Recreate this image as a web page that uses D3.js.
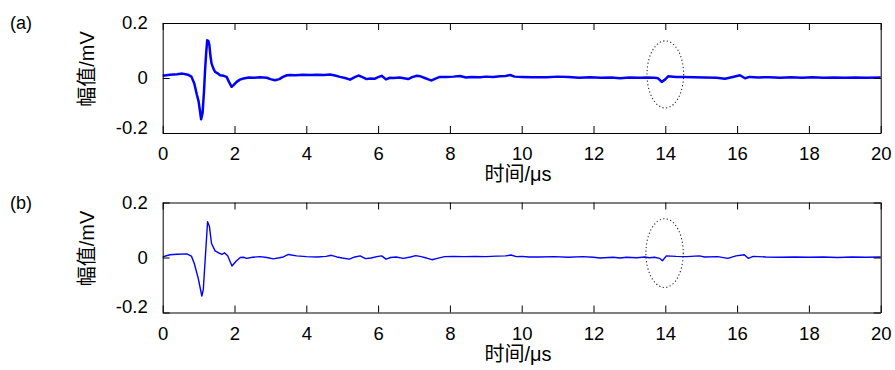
<!DOCTYPE html>
<html>
<head>
<meta charset="utf-8">
<script src="https://d3js.org/d3.v7.min.js"></script>
<style>
  body { margin: 0; background: #fff; }
  svg { display: block; }
  text { font-family: "Liberation Sans", Arial, "Noto Sans CJK SC", sans-serif; fill: #000; }
</style>
</head>
<body>
<svg id="chart" width="895" height="370"></svg>
<script>
// time axis (us) and amplitude (mV)
var timeA = [0, 0.2, 0.4, 0.55, 0.7, 0.8, 0.88, 0.95, 1.0, 1.07, 1.11, 1.15, 1.18, 1.21, 1.24, 1.27, 1.3, 1.33, 1.36, 1.41,
  1.46, 1.52, 1.6, 1.7, 1.78, 1.85, 1.92, 1.98, 2.06, 2.15, 2.25, 2.4, 2.55, 2.71, 2.9, 3.0, 3.13, 3.25, 3.35, 3.46,
  3.55, 3.7, 3.9, 4.1, 4.3, 4.5, 4.66, 4.8, 4.94, 5.08, 5.22, 5.35, 5.45, 5.55, 5.68, 5.8, 5.9, 6.0, 6.1, 6.22,
  6.33, 6.43, 6.6, 6.84, 6.95, 7.08, 7.18, 7.3, 7.42, 7.49, 7.6, 7.72, 7.9, 8.1, 8.28, 8.45, 8.6, 8.84, 9.0, 9.2,
  9.4, 9.55, 9.68, 9.8, 10.0, 10.3, 10.7, 11.0, 11.3, 11.6, 11.9, 12.2, 12.5, 12.74, 13.0, 13.3, 13.48, 13.7, 13.8, 13.9,
  13.99, 14.08, 14.3, 14.5, 14.8, 15.1, 15.43, 15.66, 15.85, 16.08, 16.22, 16.35, 16.6, 16.9, 17.2, 17.5, 17.8, 18.1, 18.4, 18.7,
  19.0, 19.3, 19.6, 20.0]
var ampA = [0.008, 0.012, 0.014, 0.016, 0.012, 0.005, -0.02, -0.06, -0.085, -0.15, -0.128, -0.05, 0.028, 0.09, 0.137, 0.135, 0.12, 0.08, 0.053, 0.035,
  0.022, 0.018, 0.01, 0.008, 0.004, -0.015, -0.032, -0.025, -0.014, -0.006, -0.002, 0.002, 0.001, 0.003, 0.001, -0.004, -0.008, -0.004, 0.004, 0.01,
  0.011, 0.01, 0.012, 0.011, 0.012, 0.011, 0.013, 0.009, 0.004, 0.0, -0.006, 0.003, 0.009, 0.004, -0.004, -0.002, -0.003, 0.003, 0.008, -0.005,
  0.001, 0.0, 0.002, -0.004, 0.003, 0.008, 0.006, 0.0, -0.006, -0.009, -0.002, 0.004, 0.004, 0.005, 0.007, 0.002, 0.004, 0.003, 0.005, 0.004,
  0.006, 0.007, 0.011, 0.005, 0.004, 0.003, 0.003, 0.005, 0.004, 0.001, 0.003, 0.001, 0.002, -0.001, 0.002, 0.001, 0.002, 0.001, -0.001, -0.014,
  -0.006, 0.006, 0.004, 0.004, 0.003, 0.002, 0.001, -0.003, 0.003, 0.01, -0.001, 0.004, 0.002, 0.003, 0.001, 0.003, 0.001, 0.003, 0.001, 0.002,
  0.001, 0.002, 0.001, 0.002]

var timeB = [0, 0.2, 0.4, 0.67, 0.8, 0.88, 0.99, 1.09, 1.13, 1.2, 1.25, 1.3, 1.36, 1.46, 1.56, 1.65, 1.72, 1.81, 1.93, 2.05,
  2.16, 2.25, 2.34, 2.5, 2.71, 2.9, 3.08, 3.25, 3.36, 3.5, 3.73, 4.0, 4.3, 4.55, 4.7, 4.85, 5.0, 5.2, 5.35, 5.5,
  5.65, 5.8, 6.0, 6.1, 6.22, 6.35, 6.5, 6.7, 6.9, 7.05, 7.2, 7.35, 7.5, 7.65, 7.85, 8.1, 8.4, 8.7, 9.0, 9.3,
  9.55, 9.7, 9.85, 10.0, 10.2, 10.5, 10.9, 11.3, 11.7, 12.0, 12.18, 12.55, 12.74, 12.92, 13.2, 13.43, 13.55, 13.7, 13.84, 13.92,
  14.03, 14.3, 14.6, 14.95, 15.1, 15.46, 15.74, 15.97, 16.2, 16.31, 16.45, 16.8, 17.2, 17.6, 18.0, 18.4, 18.8, 19.2, 19.6, 20.0]
var ampB = [0.002, 0.01, 0.012, 0.013, 0.005, -0.022, -0.076, -0.14, -0.118, 0.027, 0.13, 0.114, 0.051, 0.024, 0.017, 0.011, 0.017, 0.006, -0.031, -0.013,
  0.0, 0.001, -0.003, 0.001, 0.003, 0.0, -0.005, -0.001, 0.002, 0.011, 0.006, 0.003, 0.002, 0.004, 0.008, 0.002, -0.002, -0.006, 0.002, 0.006,
  -0.004, -0.002, 0.004, 0.006, -0.006, 0.0, 0.002, -0.003, 0.002, 0.007, 0.003, -0.002, -0.008, -0.003, 0.003, 0.004, 0.003, 0.004, 0.003, 0.005,
  0.006, 0.009, 0.003, 0.004, 0.002, 0.002, 0.003, 0.001, 0.003, 0.001, -0.002, 0.001, -0.002, 0.001, -0.001, 0.002, -0.001, 0.001, -0.003, -0.012,
  0.006, 0.004, 0.003, 0.006, 0.002, 0.003, -0.003, 0.006, 0.01, -0.003, 0.004, 0.002, 0.001, 0.002, 0.001, 0.002, 0.0, 0.002, 0.001, 0.002]

var xTicks = [0, 2, 4, 6, 8, 10, 12, 14, 16, 18, 20]
var yTicks = [-0.2, 0, 0.2]
// dotted ring around the small echo: [time, amp, rx (us), ry (mV)]
var ringA = [14.0, 0.013, 0.51, 0.122]
var ringB = [13.98, 0.016, 0.52, 0.125]

var panels = [
  { tag: "(a)", time: timeA, amp: ampA, ring: ringA, top: 23, width: 2.5 },
  { tag: "(b)", time: timeB, amp: ampB, ring: ringB, top: 202.5, width: 1.4 }
]

var left = 162.7, right = 880.7, h = 110
var svg = d3.select("#chart")
var x = d3.scaleLinear().domain([0, 20]).range([left, right])

function yFormat(d) {
  if(d == 0) return "0"
  return (d < 0 ? "-" : "") + Math.abs(d).toFixed(1)
}

panels.forEach(function(p) {
  var y = d3.scaleLinear().domain([-0.2, 0.2]).range([p.top + h, p.top])
  var g = svg.append("g")

  // signal
  var pts = p.time.map(function(t, i) { return [t, p.amp[i]] })
  g.append("path")
    .datum(pts)
    .attr("fill", "none")
    .attr("stroke", "#0000ff")
    .attr("stroke-width", p.width)
    .attr("stroke-linejoin", "round")
    .attr("d", d3.line().x(function(d) { return x(d[0]) }).y(function(d) { return y(d[1]) }))

  // highlight ring
  var r = p.ring
  g.append("ellipse")
    .attr("cx", x(r[0]))
    .attr("cy", y(r[1]))
    .attr("rx", x(r[2]) - x(0))
    .attr("ry", y(0) - y(r[3]))
    .attr("fill", "none")
    .attr("stroke", "#222")
    .attr("stroke-width", 1.1)
    .attr("stroke-dasharray", "1.2,2.4")

  // axes, inward ticks on all four sides
  var tk = -7
  g.append("g").attr("transform", "translate(0," + (p.top + h) + ")")
    .call(d3.axisBottom(x).tickValues(xTicks).tickSizeInner(tk).tickSizeOuter(0).tickPadding(14).tickFormat(d3.format("d")))
  g.append("g").attr("transform", "translate(0," + p.top + ")")
    .call(d3.axisTop(x).tickValues(xTicks).tickSizeInner(tk).tickSizeOuter(0).tickFormat(""))
  g.append("g").attr("transform", "translate(" + left + ",0)")
    .call(d3.axisLeft(y).tickValues(yTicks).tickSizeInner(tk).tickSizeOuter(0).tickPadding(15).tickFormat(yFormat))
  g.append("g").attr("transform", "translate(" + right + ",0)")
    .call(d3.axisRight(y).tickValues(yTicks).tickSizeInner(tk).tickSizeOuter(0).tickFormat(""))

  g.selectAll(".domain").attr("stroke", "#000").attr("stroke-width", 1)
  g.selectAll(".tick line").attr("stroke", "#000")
  g.selectAll(".tick text").attr("font-size", 18.5).attr("fill", "#000")
    .style("font-family", '"Liberation Sans", Arial, sans-serif')
  // the bottom y label sits a bit higher, as in the reference
  g.selectAll(".tick text").filter(function(d) { return d === -0.2 }).attr("dy", "0.0em")

  g.append("text")
    .attr("x", 10).attr("y", p.top + 6)
    .attr("font-size", 18)
    .text(p.tag)

  g.append("text")
    .attr("transform", "translate(94," + (p.top + 46) + ") rotate(-90)")
    .attr("text-anchor", "middle")
    .attr("font-size", 20)
    .style("font-family", '"Liberation Sans", "Noto Sans CJK SC", sans-serif')
    .text("幅值/mV")

  g.append("text")
    .attr("x", 518).attr("y", p.top + h + 48)
    .attr("text-anchor", "middle")
    .attr("font-size", 20)
    .style("font-family", '"Liberation Sans", "Noto Sans CJK SC", sans-serif')
    .text("时间/μs")
})
</script>
</body>
</html>
